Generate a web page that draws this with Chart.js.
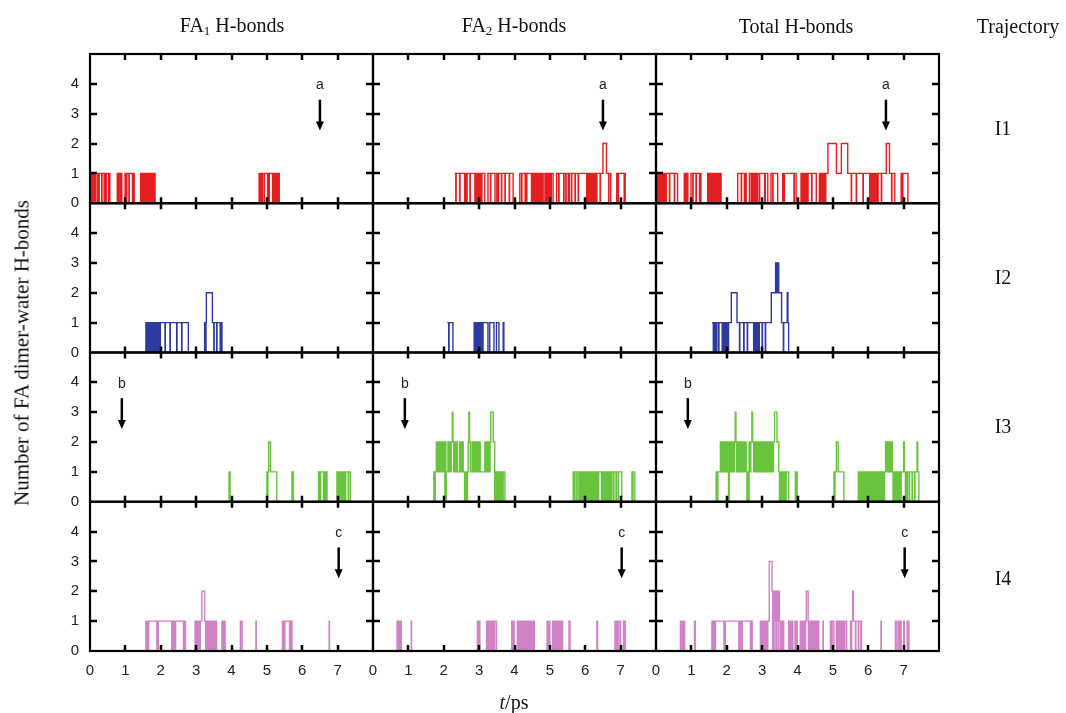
<!DOCTYPE html>
<html>
<head>
<meta charset="utf-8">
<title>FA dimer-water H-bonds</title>
<script src="https://cdn.jsdelivr.net/npm/chart.js@4.4.1/dist/chart.umd.min.js"></script>
<style>
  html, body { margin: 0; padding: 0; background: #fff; }
  #wrap { position: relative; width: 1066px; height: 713px; overflow: hidden; }
  #chart { position: absolute; left: 0; top: 0; }
  .lbl {
    position: absolute;
    font-family: "Liberation Serif", "Times New Roman", serif;
    font-size: 20px;
    color: #111;
    white-space: nowrap;
    transform: translate(-50%, -50%);
    line-height: 1;
  }
  .lbl sub { font-size: 0.65em; vertical-align: -0.25em; }
  .rot { transform: translate(-50%, -50%) rotate(-90deg); font-size: 21px; }
</style>
</head>
<body>
<div id="wrap">
  <canvas id="chart" width="1066" height="713"></canvas>
  <div class="lbl" style="left:232px;top:26px">FA<sub>1</sub> H-bonds</div>
  <div class="lbl" style="left:514px;top:26px">FA<sub>2</sub> H-bonds</div>
  <div class="lbl" style="left:796px;top:26px">Total H-bonds</div>
  <div class="lbl" style="left:1018px;top:26px">Trajectory</div>
  <div class="lbl" style="left:1003px;top:128px">I1</div>
  <div class="lbl" style="left:1003px;top:277px">I2</div>
  <div class="lbl" style="left:1003px;top:426px">I3</div>
  <div class="lbl" style="left:1003px;top:578px">I4</div>
  <div class="lbl rot" style="left:22px;top:353px">Number of FA dimer-water H-bonds</div>
  <div class="lbl" style="left:514px;top:702px"><i>t</i>/ps</div>
</div>
<script>
// panel columns and rows
const columns = ['FA1 H-bonds', 'FA2 H-bonds', 'Total H-bonds'];
const trajectories = ['I1', 'I2', 'I3', 'I4'];
const xTicks = [0, 1, 2, 3, 4, 5, 6, 7];
const yTicks = [0, 1, 2, 3, 4];

// [time (ps), number of H-bonds] -- value holds until the next point
const fa1I1 = [[0,1],[0.02,0],[0.03,1],[0.05,0],[0.06,1],[0.08,0],[0.09,1],[0.11,0],[0.12,1],[0.14,0],[0.15,1],[0.2,0],[0.21,1],[0.25,0],[0.26,1],[0.33,0],[0.34,1],[0.4,0],[0.41,1],[0.45,0],[0.46,1],[0.52,0],[0.53,1],[0.56,0],
  [0.77,1],[0.79,0],[0.8,1],[0.82,0],[0.83,1],[0.85,0],[0.86,1],[0.9,0],[0.99,1],[1.03,0],[1.04,1],[1.1,0],[1.11,1],[1.2,0],[1.21,1],[1.25,0],
  [1.43,1],[1.45,0],[1.46,1],[1.48,0],[1.49,1],[1.52,0],[1.53,1],[1.55,0],[1.56,1],[1.59,0],[1.6,1],[1.63,0],[1.64,1],[1.67,0],[1.68,1],[1.71,0],[1.72,1],[1.75,0],[1.76,1],[1.79,0],[1.8,1],[1.84,0],
  [4.78,1],[4.8,0],[4.81,1],[4.83,0],[4.84,1],[4.86,0],[4.87,1],[4.92,0],[4.93,1],[5.02,0],[5.03,1],[5.06,0],[5.07,1],[5.16,0],[5.17,1],[5.19,0],[5.2,1],[5.22,0],[5.23,1],[5.25,0],[5.26,1],[5.28,0],[5.29,1],[5.31,0],[5.32,1],[5.35,0]];
const fa2I1 = [[2.31,1],[2.34,0],[2.35,1],[2.45,0],[2.46,1],[2.59,0],[2.6,1],[2.62,0],[2.63,1],[2.65,0],[2.66,1],[2.74,0],[2.75,1],[2.88,0],[2.89,1],[2.92,0],[2.93,1],[2.95,0],[2.96,1],[2.98,0],[2.99,1],[3.01,0],[3.02,1],[3.04,0],[3.05,1],[3.07,0],[3.08,1],[3.16,0],
  [3.25,1],[3.32,0],[3.33,1],[3.45,0],[3.5,1],[3.54,0],[3.55,1],[3.63,0],[3.64,1],[3.73,0],[3.74,1],[3.85,0],[3.86,1],[3.96,0],
  [4.15,1],[4.2,0],[4.21,1],[4.3,0],[4.31,1],[4.34,0],[4.35,1],[4.48,0],[4.49,1],[4.53,0],[4.54,1],[4.56,0],[4.57,1],[4.59,0],[4.6,1],[4.62,0],[4.63,1],[4.65,0],[4.66,1],[4.68,0],[4.69,1],[4.71,0],[4.72,1],[4.74,0],[4.75,1],[4.77,0],[4.78,1],[4.81,0],[4.86,1],[4.88,0],[4.89,1],[4.91,0],[4.92,1],[4.94,0],[4.95,1],[4.97,0],[4.98,1],[5.0,0],[5.01,1],[5.03,0],[5.04,1],[5.09,0],
  [5.19,1],[5.25,0],[5.26,1],[5.39,0],[5.4,1],[5.45,0],[5.46,1],[5.52,0],
  [5.55,1],[5.61,0],[5.62,1],[5.71,0],[5.72,1],[5.8,0],[5.81,1],[6.04,0],[6.05,1],[6.07,0],[6.08,1],[6.1,0],[6.11,1],[6.13,0],[6.14,1],[6.16,0],[6.17,1],[6.19,0],[6.2,1],[6.22,0],[6.23,1],[6.25,0],[6.26,1],[6.28,0],[6.29,1],[6.32,0],[6.33,1],[6.42,0],[6.43,1],[6.5,2],[6.6,1],[6.66,0],[6.67,1],[6.72,0],
  [6.89,1],[6.93,0],[6.94,1],[7.1,0],[7.11,1],[7.13,0]];
const totI1 = [[0,1],[0.02,0],[0.03,1],[0.05,0],[0.06,1],[0.08,0],[0.09,1],[0.11,0],[0.12,1],[0.14,0],[0.15,1],[0.17,0],[0.18,1],[0.2,0],[0.21,1],[0.24,0],[0.25,1],[0.28,0],[0.29,1],[0.38,0],[0.39,1],[0.52,0],[0.53,1],[0.61,0],
  [0.8,1],[0.82,0],[0.83,1],[0.85,0],[0.86,1],[0.9,0],[0.99,1],[1.04,0],[1.05,1],[1.13,0],[1.14,1],[1.23,0],[1.24,1],[1.27,0],
  [1.46,1],[1.48,0],[1.49,1],[1.52,0],[1.53,1],[1.56,0],[1.57,1],[1.6,0],[1.61,1],[1.64,0],[1.65,1],[1.68,0],[1.69,1],[1.72,0],[1.73,1],[1.76,0],[1.77,1],[1.81,0],[1.82,1],[1.84,0],
  [2.31,1],[2.41,0],[2.42,1],[2.5,0],[2.52,1],[2.55,0],[2.64,1],[2.69,0],[2.7,1],[2.74,0],[2.75,1],[2.77,0],[2.78,1],[2.8,0],[2.81,1],[2.83,0],[2.84,1],[2.86,0],[2.87,1],[2.92,0],[2.93,1],[3.07,0],[3.09,1],[3.16,0],
  [3.25,1],[3.3,0],[3.31,1],[3.44,0],[3.58,1],[3.62,0],[3.63,1],[3.9,0],[3.91,1],[3.96,0],
  [4.1,1],[4.14,0],[4.15,1],[4.17,0],[4.18,1],[4.2,0],[4.21,1],[4.23,0],[4.24,1],[4.26,0],[4.27,1],[4.29,0],[4.3,1],[4.4,0],[4.41,1],[4.53,0],
  [4.62,1],[4.64,0],[4.65,1],[4.67,0],[4.68,1],[4.7,0],[4.71,1],[4.73,0],[4.74,1],[4.76,0],[4.77,1],[4.79,0],[4.8,1],[4.86,2],[5.1,1],[5.24,2],[5.42,1],[5.52,0],[5.53,1],[5.66,0],[5.67,1],[5.85,0],[5.86,1],[6.04,0],[6.05,1],[6.07,0],[6.08,1],[6.1,0],[6.11,1],[6.13,0],[6.14,1],[6.16,0],[6.17,1],[6.19,0],[6.2,1],[6.22,0],[6.23,1],[6.27,0],[6.28,1],[6.37,0],[6.38,1],[6.51,2],[6.6,1],[6.66,0],[6.67,1],[6.75,0],
  [6.93,1],[6.97,0],[6.98,1],[7.12,0]];

const fa1I2 = [[1.56,1],[1.58,0],[1.59,1],[1.62,0],[1.63,1],[1.66,0],[1.67,1],[1.7,0],[1.71,1],[1.73,0],[1.74,1],[1.76,0],[1.77,1],[1.79,0],[1.8,1],[1.82,0],[1.83,1],[1.85,0],[1.86,1],[1.88,0],[1.89,1],[1.91,0],[1.92,1],[1.94,0],[1.95,1],[1.98,0],[1.99,1],[2.12,0],[2.13,1],[2.26,0],[2.27,1],[2.45,0],[2.46,1],[2.59,0],[2.6,1],[2.78,0],
  [3.24,1],[3.27,0],[3.28,1],[3.29,2],[3.46,1],[3.5,0],[3.51,1],[3.58,0],[3.59,1],[3.68,0],[3.69,1],[3.73,0]];
const fa2I2 = [[2.1,1],[2.14,0],[2.15,1],[2.26,0],
  [2.86,1],[2.88,0],[2.89,1],[2.91,0],[2.92,1],[2.94,0],[2.95,1],[2.97,0],[2.98,1],[3.0,0],[3.01,1],[3.03,0],[3.04,1],[3.07,0],
  [3.11,1],[3.25,0],[3.3,1],[3.42,0],[3.49,1],[3.56,0],[3.68,1],[3.7,0]];
const totI2 = [[1.58,1],[1.62,0],[1.63,1],[1.65,0],[1.66,1],[1.68,0],[1.69,1],[1.71,0],[1.72,1],[1.77,0],[1.78,1],[1.87,0],[1.88,1],[1.92,0],[1.93,1],[1.95,0],[1.96,1],[1.98,0],[1.99,1],[2.01,0],[2.02,1],[2.04,0],[2.05,1],[2.13,2],[2.29,1],[2.36,0],[2.37,1],[2.48,0],[2.49,1],[2.58,0],[2.59,1],[2.76,0],[2.77,1],[2.81,0],[2.82,1],[2.84,0],[2.85,1],[2.87,0],[2.88,1],[2.91,0],[2.92,1],[3.0,0],[3.01,1],[3.09,0],[3.1,1],[3.26,2],[3.38,3],[3.42,2],[3.44,3],[3.47,2],[3.55,1],[3.6,0],[3.61,1],[3.71,2],[3.73,1],[3.75,0]];

const fa1I3 = [[3.92,1],[3.93,0],[3.94,1],[3.96,0],
  [5.0,1],[5.02,0],[5.03,1],[5.05,2],[5.1,1],[5.28,0],
  [5.71,1],[5.72,0],[5.73,1],[5.75,0],
  [6.46,1],[6.48,0],[6.49,1],[6.51,0],[6.52,1],[6.6,0],[6.61,1],[6.65,0],[6.66,1],[6.7,0],
  [6.98,1],[7.0,0],[7.01,1],[7.03,0],[7.04,1],[7.06,0],[7.07,1],[7.09,0],[7.1,1],[7.12,0],[7.13,1],[7.17,0],[7.18,1],[7.22,0],[7.23,1],[7.3,0],[7.31,1],[7.36,0]];
const fa2I3 = [[1.7,1],[1.72,0],[1.73,1],[1.75,0],[1.76,1],[1.79,2],[1.81,1],[1.82,2],[1.84,1],[1.85,2],[1.87,1],[1.88,2],[1.9,1],[1.91,2],[1.93,1],[1.94,2],[1.96,1],[1.97,2],[1.99,1],[2.0,2],[2.03,0],[2.04,2],[2.06,0],[2.07,1],[2.12,2],[2.14,1],[2.15,2],[2.17,1],[2.18,2],[2.2,1],[2.21,2],[2.24,3],[2.26,2],[2.28,1],[2.29,2],[2.31,1],[2.32,2],[2.34,1],[2.35,2],[2.39,1],[2.45,2],[2.47,1],[2.5,2],[2.52,1],[2.54,2],[2.55,1],[2.59,0],[2.61,1],[2.62,0],[2.64,1],[2.65,0],[2.67,1],[2.69,2],[2.71,3],[2.73,2],[2.75,1],[2.8,2],[2.82,1],[2.86,2],[2.88,1],[2.92,2],[2.94,1],[2.97,2],[3.0,1],[3.02,2],[3.03,1],[3.16,2],[3.18,1],[3.19,2],[3.21,1],[3.22,2],[3.24,1],[3.25,2],[3.27,1],[3.28,2],[3.3,1],[3.31,2],[3.33,3],[3.4,2],[3.44,0],[3.46,1],[3.49,0],[3.5,1],[3.52,0],[3.53,1],[3.55,0],[3.56,1],[3.58,0],[3.59,1],[3.61,0],[3.62,1],[3.64,0],[3.65,1],[3.67,0],[3.68,1],[3.73,0],
  [5.66,1],[5.67,0],[5.68,1],[5.7,0],[5.71,1],[5.76,0],[5.77,1],[5.82,0],[5.83,1],[5.87,0],[5.88,1],[5.9,0],[5.91,1],[5.93,0],[5.94,1],[5.96,0],[5.97,1],[5.99,0],[6.0,1],[6.02,0],[6.03,1],[6.05,0],[6.06,1],[6.08,0],[6.09,1],[6.11,0],[6.12,1],[6.14,0],[6.15,1],[6.17,0],[6.18,1],[6.2,0],[6.21,1],[6.23,0],[6.24,1],[6.26,0],[6.27,1],[6.29,0],[6.3,1],[6.32,0],[6.33,1],[6.37,0],[6.38,1],[6.46,0],[6.47,1],[6.49,0],[6.5,1],[6.52,0],[6.53,1],[6.55,0],[6.56,1],[6.58,0],[6.59,1],[6.61,0],[6.62,1],[6.64,0],[6.65,1],[6.67,0],[6.68,1],[6.7,0],[6.71,1],[6.74,0],[6.75,1],[6.8,0],[6.81,1],[6.87,0],[6.88,1],[6.93,0],[6.94,1],[7.03,0],
  [7.32,1],[7.34,0],[7.35,1],[7.4,0]];
const totI3 = [[1.68,1],[1.7,0],[1.71,1],[1.74,0],[1.75,1],[1.82,2],[1.84,1],[1.85,2],[1.87,1],[1.88,2],[1.9,1],[1.91,2],[1.93,1],[1.94,2],[1.96,1],[1.97,2],[1.99,1],[2.0,2],[2.02,1],[2.03,2],[2.05,0],[2.07,2],[2.09,1],[2.1,2],[2.12,1],[2.13,2],[2.15,1],[2.16,2],[2.18,1],[2.19,2],[2.21,1],[2.22,2],[2.24,3],[2.26,2],[2.28,1],[2.29,2],[2.31,1],[2.32,2],[2.35,1],[2.37,2],[2.4,1],[2.42,2],[2.45,1],[2.47,2],[2.5,1],[2.52,2],[2.55,1],[2.57,0],[2.59,1],[2.61,0],[2.63,2],[2.66,1],[2.68,2],[2.71,3],[2.73,2],[2.76,1],[2.78,2],[2.82,1],[2.84,2],[2.88,1],[2.9,2],[2.94,1],[2.96,2],[3.0,1],[3.02,2],[3.05,1],[3.07,2],[3.1,1],[3.12,2],[3.15,1],[3.17,2],[3.19,1],[3.2,2],[3.22,1],[3.23,2],[3.25,1],[3.26,2],[3.28,1],[3.29,2],[3.31,1],[3.32,2],[3.35,3],[3.42,2],[3.47,1],[3.49,0],[3.5,1],[3.52,0],[3.53,1],[3.55,0],[3.56,1],[3.58,0],[3.59,1],[3.61,0],[3.62,1],[3.64,0],[3.65,1],[3.67,0],[3.68,1],[3.75,0],[3.94,1],[3.96,0],[3.97,1],[3.99,0],
  [5.03,1],[5.05,0],[5.06,1],[5.1,2],[5.15,1],[5.31,0],
  [5.72,1],[5.74,0],[5.75,1],[5.77,0],[5.78,1],[5.8,0],[5.81,1],[5.84,0],[5.85,1],[5.87,0],[5.88,1],[5.9,0],[5.91,1],[5.93,0],[5.94,1],[5.96,0],[5.97,1],[5.99,0],[6.0,1],[6.03,0],[6.04,1],[6.06,0],[6.07,1],[6.09,0],[6.1,1],[6.12,0],[6.13,1],[6.15,0],[6.16,1],[6.18,0],[6.19,1],[6.21,0],[6.22,1],[6.24,0],[6.25,1],[6.27,0],[6.28,1],[6.3,0],[6.31,1],[6.33,0],[6.34,1],[6.37,0],[6.38,1],[6.41,0],[6.42,1],[6.45,0],[6.46,1],[6.49,2],[6.51,1],[6.52,2],[6.54,1],[6.55,2],[6.57,1],[6.58,2],[6.6,1],[6.61,2],[6.63,1],[6.64,2],[6.66,1],[6.67,2],[6.68,1],[6.7,0],[6.71,1],[6.74,0],[6.75,1],[6.78,0],[6.79,1],[6.83,0],[6.84,1],[6.87,0],[6.88,1],[6.92,0],[6.93,1],[7.0,2],[7.02,1],[7.05,0],[7.06,1],[7.1,0],[7.11,1],[7.16,0],[7.17,1],[7.24,0],[7.25,1],[7.31,0],[7.32,1],[7.38,2],[7.4,1],[7.43,0]];

const fa1I4 = [[1.56,1],[1.58,0],[1.59,1],[1.61,0],[1.62,1],[1.65,0],[1.66,1],[1.89,0],[1.9,1],[1.92,0],[1.93,1],[2.31,0],[2.32,1],[2.34,0],[2.35,1],[2.38,0],[2.39,1],[2.41,0],[2.42,1],[2.64,0],[2.65,1],[2.67,0],[2.68,1],[2.7,0],
  [2.97,1],[2.99,0],[3.0,1],[3.02,0],[3.03,1],[3.05,0],[3.06,1],[3.08,0],[3.09,1],[3.11,0],[3.12,1],[3.16,2],[3.24,1],[3.27,0],[3.28,1],[3.31,0],[3.32,1],[3.34,0],[3.35,1],[3.37,0],[3.38,1],[3.4,0],[3.41,1],[3.43,0],[3.44,1],[3.46,0],[3.47,1],[3.49,0],[3.5,1],[3.52,0],[3.53,1],[3.55,0],[3.56,1],[3.58,0],
  [3.73,1],[3.75,0],[3.76,1],[3.78,0],[3.79,1],[3.82,0],
  [4.25,1],[4.27,0],[4.28,1],[4.3,0],
  [4.69,1],[4.7,0],
  [5.44,1],[5.46,0],[5.47,1],[5.5,0],[5.51,1],[5.64,0],[5.65,1],[5.67,0],[5.68,1],[5.71,0],
  [6.76,1],[6.77,0]];
const fa2I4 = [[0.66,1],[0.68,0],[0.69,1],[0.72,0],[0.73,1],[0.77,0],[0.78,1],[0.8,0],
  [1.08,1],[1.09,0],
  [2.95,1],[2.97,0],[2.98,1],[3.02,0],
  [3.21,1],[3.23,0],[3.26,1],[3.28,0],[3.3,1],[3.33,0],[3.34,1],[3.36,0],[3.4,1],[3.42,0],[3.44,1],[3.49,0],
  [3.92,1],[3.94,0],[3.96,1],[3.99,0],
  [4.08,1],[4.1,0],[4.11,1],[4.13,0],[4.14,1],[4.16,0],[4.17,1],[4.19,0],[4.2,1],[4.22,0],[4.23,1],[4.25,0],[4.26,1],[4.28,0],[4.29,1],[4.31,0],[4.32,1],[4.34,0],[4.35,1],[4.37,0],[4.38,1],[4.4,0],[4.41,1],[4.43,0],[4.44,1],[4.46,0],[4.47,1],[4.49,0],[4.5,1],[4.52,0],[4.53,1],[4.56,0],
  [4.92,1],[4.95,0],[4.97,1],[5.0,0],
  [5.08,1],[5.1,0],[5.11,1],[5.13,0],[5.14,1],[5.16,0],[5.17,1],[5.19,0],[5.2,1],[5.22,0],[5.23,1],[5.25,0],[5.26,1],[5.28,0],[5.29,1],[5.31,0],[5.32,1],[5.36,0],
  [5.54,1],[5.57,0],
  [6.33,1],[6.35,0],
  [6.84,1],[6.86,0],[6.87,1],[6.89,0],[6.9,1],[6.93,0],[6.98,1],[7.0,0],[7.08,1],[7.1,0],[7.11,1],[7.13,0]];
const totI4 = [[0.67,1],[0.69,0],[0.7,1],[0.73,0],[0.74,1],[0.78,0],[0.79,1],[0.81,0],
  [1.09,1],[1.11,0],
  [1.58,1],[1.6,0],[1.61,1],[1.63,0],[1.64,1],[1.67,0],[1.68,1],[1.92,0],[1.93,1],[1.95,0],[1.96,1],[2.34,0],[2.35,1],[2.37,0],[2.38,1],[2.4,0],[2.41,1],[2.43,0],[2.44,1],[2.67,0],[2.68,1],[2.7,0],[2.71,1],[2.72,0],
  [2.95,1],[2.97,0],[2.98,1],[3.0,0],[3.01,1],[3.03,0],[3.04,1],[3.06,0],[3.07,1],[3.09,0],[3.1,1],[3.12,0],[3.13,1],[3.15,0],[3.16,1],[3.2,3],[3.28,2],[3.3,0],[3.31,2],[3.33,0],[3.34,2],[3.36,1],[3.37,2],[3.39,0],[3.4,2],[3.42,1],[3.43,2],[3.45,0],[3.46,2],[3.49,1],[3.51,0],[3.52,1],[3.54,0],[3.55,1],[3.58,0],[3.59,1],[3.61,0],
  [3.75,1],[3.76,0],[3.8,1],[3.81,0],[3.85,1],[3.87,0],[3.93,1],[3.95,0],[3.96,1],[3.99,0],
  [4.08,1],[4.1,0],[4.11,1],[4.13,0],[4.14,1],[4.16,0],[4.17,1],[4.19,0],[4.2,1],[4.22,0],[4.23,1],[4.25,2],[4.3,1],[4.31,0],[4.32,1],[4.34,0],[4.35,1],[4.37,0],[4.38,1],[4.4,0],[4.41,1],[4.43,0],[4.44,1],[4.46,0],[4.47,1],[4.49,0],[4.5,1],[4.52,0],[4.53,1],[4.55,0],[4.56,1],[4.6,0],
  [4.72,1],[4.73,0],
  [4.93,1],[4.96,0],[4.98,1],[5.03,0],
  [5.1,1],[5.12,0],[5.13,1],[5.15,0],[5.16,1],[5.18,0],[5.19,1],[5.21,0],[5.22,1],[5.24,0],[5.25,1],[5.27,0],[5.28,1],[5.3,0],[5.31,1],[5.33,0],[5.34,1],[5.39,0],
  [5.5,1],[5.52,0],[5.53,1],[5.56,2],[5.58,1],[5.64,0],[5.65,1],[5.72,0],[5.73,1],[5.79,0],[5.8,1],[5.81,0],
  [6.36,1],[6.37,0],
  [6.77,1],[6.79,0],[6.84,1],[6.86,0],[6.9,1],[6.93,0],[7.0,1],[7.02,0],[7.1,1],[7.12,0],[7.13,1],[7.15,0]];

const panels = [
  [fa1I1, fa2I1, totI1],
  [fa1I2, fa2I2, totI2],
  [fa1I3, fa2I3, totI3],
  [fa1I4, fa2I4, totI4]
];
const rowColors = ['#e41f22', '#2d3a9f', '#67c43c', '#cf82c6'];

// arrows: letter, row, time
const markLetters = ['a', 'b', 'c'];
const markRows = [0, 2, 3];
const markTimes = [6.5, 0.9, 7.03];

const tickFont = { family: "'Liberation Sans', Arial, sans-serif", size: 15 };

const scales = {};
columns.forEach((c, i) => {
  scales['x' + i] = {
    type: 'linear', axis: 'x', position: 'bottom',
    stack: 'cols', stackWeight: 1,
    min: 0, max: 8,
    grid: { display: false, drawTicks: false }, border: { display: false },
    ticks: {
      stepSize: 1, autoSkip: false, maxRotation: 0, padding: 11,
      color: '#222', font: tickFont,
      callback: v => xTicks.includes(v) ? String(v) : ''
    },
    afterFit: s => { s.height = 62; }
  };
});
trajectories.forEach((t, j) => {
  scales['y' + j] = {
    type: 'linear', axis: 'y', position: 'left',
    stack: 'rows', stackWeight: 1, weight: trajectories.length - j,
    min: 0, max: 5,
    grid: { display: false, drawTicks: false }, border: { display: false },
    ticks: {
      stepSize: 1, autoSkip: false, padding: 11,
      color: '#222', font: tickFont,
      callback: v => yTicks.includes(v) ? String(v) : ''
    },
    afterFit: s => { s.width = 90; }
  };
});

const datasets = [];
panels.forEach((row, j) => {
  row.forEach((series, i) => {
    datasets.push({
      label: columns[i] + ' ' + trajectories[j],
      data: series.map(([t, n]) => ({ x: t, y: n })),
      xAxisID: 'x' + i,
      yAxisID: 'y' + j,
      borderColor: rowColors[j],
      borderWidth: 1.4,
      stepped: true,
      pointRadius: 0,
      fill: false
    });
  });
});

// panel frames, inward ticks and the a/b/c arrows
const decor = {
  id: 'decor',
  afterDraw(chart) {
    const ctx = chart.ctx;
    ctx.save();
    ctx.strokeStyle = '#000';
    ctx.fillStyle = '#000';
    columns.forEach((c, i) => {
      const xs = chart.scales['x' + i];
      trajectories.forEach((t, j) => {
        const ys = chart.scales['y' + j];
        ctx.lineWidth = 2.2;
        ctx.strokeRect(xs.left, ys.top, xs.right - xs.left, ys.bottom - ys.top);
        ctx.lineWidth = 2.5;
        ctx.beginPath();
        xTicks.slice(1).forEach(v => {
          const px = Math.round(xs.getPixelForValue(v));
          ctx.moveTo(px, ys.bottom); ctx.lineTo(px, ys.bottom - 6);
          ctx.moveTo(px, ys.top); ctx.lineTo(px, ys.top + 6);
        });
        yTicks.slice(1).forEach(v => {
          const py = Math.round(ys.getPixelForValue(v));
          ctx.moveTo(xs.left, py); ctx.lineTo(xs.left + 7, py);
          ctx.moveTo(xs.right, py); ctx.lineTo(xs.right - 7, py);
        });
        ctx.stroke();
      });
      markLetters.forEach((letter, k) => {
        const ys = chart.scales['y' + markRows[k]];
        const x = xs.getPixelForValue(markTimes[k]);
        const yText = ys.getPixelForValue(3.95);
        const yTop = ys.getPixelForValue(3.47);
        const yTip = ys.getPixelForValue(2.44);
        ctx.lineWidth = 2.5;
        ctx.beginPath();
        ctx.moveTo(x, yTop); ctx.lineTo(x, yTip - 6);
        ctx.stroke();
        ctx.beginPath();
        ctx.moveTo(x - 4, yTip - 9); ctx.lineTo(x + 4, yTip - 9); ctx.lineTo(x, yTip);
        ctx.closePath(); ctx.fill();
        ctx.font = "14px 'Liberation Sans', Arial, sans-serif";
        ctx.textAlign = 'center';
        ctx.textBaseline = 'middle';
        ctx.fillStyle = '#222';
        ctx.fillText(letter, x, yText);
        ctx.fillStyle = '#000';
      });
    });
    ctx.restore();
  }
};

new Chart(document.getElementById('chart'), {
  type: 'line',
  data: { datasets },
  options: {
    responsive: false,
    animation: false,
    layout: { padding: { left: 0, top: 54, right: 127, bottom: 0 } },
    plugins: { legend: { display: false }, tooltip: { enabled: false } },
    scales
  },
  plugins: [decor]
});
</script>
</body>
</html>
